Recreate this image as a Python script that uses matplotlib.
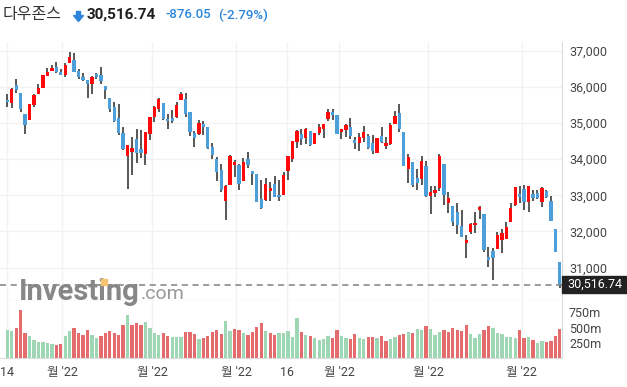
import matplotlib
matplotlib.use("Agg")
import numpy as np
import matplotlib.pyplot as plt
from matplotlib.patches import Polygon, Rectangle

# daily candles (Dow Jones)
opens = [35635, 35562, 36041, 35829, 35249, 35092, 35507, 35811, 35977, 36308,
         36447, 36539, 36410, 36336, 36668, 36742, 36428, 36281, 36180, 36087,
         36355, 36327, 36023, 35691, 35442, 35138, 34723, 34096, 34207, 34557,
         34281, 34151, 34704, 35165, 35387, 35562, 35119, 35138, 35174, 35645,
         35654, 35304, 34732, 34704, 34972, 34880, 34336, 34004, 33699, 32851,
         33294, 33838, 33828, 33386, 34004, 33662, 33589, 32897, 32879, 33128,
         33312, 33008, 33017, 33681, 34013, 34483, 34695, 34594, 34778, 34428,
         34732, 34834, 35110, 35304, 35221, 34760, 34815, 34880, 34529, 34456,
         34594, 34640, 34437, 34179, 34631, 34372, 34409, 34981, 35267, 34741,
         33736, 33911, 33478, 33441, 33810, 32989, 33072, 33192, 33865, 32796,
         32703, 32537, 32150, 31689, 31994, 32169, 32602, 32482, 31293, 31458,
         31524, 31754, 31800, 32270, 32731, 33045, 33174, 32824, 33036, 33063,
         32805, 33119, 32842, 32067, 31164]
closes = [35571, 35930, 35921, 35387, 34953, 35516, 35765, 35967, 36318, 36410,
          36520, 36410, 36336, 36613, 36816, 36410, 36262, 36189, 36087, 36262,
          36281, 36152, 35921, 35396, 35045, 34723, 34290, 34382, 34308, 34170,
          34170, 34750, 35165, 35442, 35663, 35110, 35045, 35064, 35497, 35811,
          35257, 34760, 34594, 34990, 34898, 34317, 34105, 33635, 33155, 33257,
          34087, 33920, 33321, 33920, 33828, 33598, 32824, 32648, 33312, 33201,
          32962, 32943, 33561, 34087, 34511, 34778, 34566, 34834, 34382, 34713,
          34880, 34972, 35304, 35230, 34704, 34834, 34935, 34649, 34456, 34603,
          34750, 34317, 34234, 34576, 34465, 34437, 34944, 35193, 34824, 33819,
          34059, 33275, 33331, 33939, 32980, 33091, 33146, 34087, 33008, 32925,
          32270, 32187, 31855, 31772, 32206, 32243, 32676, 31496, 31219, 31265,
          31892, 31957, 32132, 32648, 33229, 32962, 32824, 33257, 32925, 32925,
          33192, 32943, 32298, 31422, 30516.74]
highs = [35793, 35958, 36207, 35829, 35249, 35530, 35793, 36069, 36330, 36530,
         36594, 36696, 36484, 36650, 36963, 36945, 36493, 36392, 36180, 36299,
         36392, 36539, 36023, 35691, 35580, 35516, 34898, 34382, 34603, 34824,
         34806, 34750, 35165, 35460, 35682, 35562, 35239, 35359, 35580, 35848,
         35820, 35304, 34787, 35073, 35055, 34880, 34446, 34068, 33856, 33275,
         34105, 33976, 33856, 34031, 34188, 33662, 33589, 33423, 33469, 33358,
         33524, 33423, 33635, 34087, 34511, 34806, 34834, 34852, 34778, 34713,
         34963, 34972, 35378, 35387, 35221, 34834, 34972, 35128, 34621, 34713,
         34926, 34686, 34667, 34594, 34898, 34621, 35009, 35331, 35516, 34741,
         34133, 33911, 33718, 34077, 33939, 33257, 33257, 34133, 33865, 33082,
         32703, 32777, 32593, 31911, 32243, 32528, 32713, 32482, 31579, 31532,
         31984, 32077, 32261, 32777, 33229, 33266, 33285, 33257, 33137, 33155,
         33229, 33155, 32971, 32067, 31164]
lows = [35452, 35405, 35820, 35313, 34686, 35080, 35451, 35800, 35965, 36300,
        36437, 36373, 36330, 36262, 36650, 36400, 36225, 36152, 35682, 35792,
        36216, 36069, 35672, 35304, 35040, 34677, 34253, 33165, 33570, 33902,
        34040, 33829, 34529, 35027, 35304, 35082, 34824, 35009, 35138, 35645,
        35174, 34650, 34326, 34658, 34667, 34280, 33994, 33386, 33100, 32307,
        33275, 33497, 33137, 33386, 33764, 33275, 32824, 32611, 32851, 32833,
        32943, 32833, 33008, 33423, 33920, 34317, 34382, 34428, 34363, 34419,
        34658, 34585, 35064, 35082, 34704, 34566, 34603, 34548, 34290, 34216,
        34483, 34280, 34142, 34160, 34446, 34290, 34391, 34981, 34741, 33819,
        33349, 33238, 33146, 33275, 32943, 32482, 32953, 33128, 32731, 32519,
        32150, 31929, 31837, 31256, 31920, 31966, 32335, 31422, 31025, 30648,
        31505, 31395, 31782, 32252, 32713, 32777, 32602, 32528, 32833, 32888,
        32666, 32916, 32298, 31422, 30430]

# volume in millions, g = green bar, r = red bar
volumes = [458, 441, 490, 785, 409, 360, 294, 262, 262, 245,
           234, 213, 229, 360, 441, 490, 409, 376, 458, 376,
           327, 360, 409, 441, 409, 376, 540, 703, 540, 572,
           540, 589, 490, 409, 376, 409, 360, 343, 343, 343,
           425, 425, 392, 311, 327, 360, 425, 458, 392, 605,
           441, 474, 458, 409, 376, 425, 507, 572, 441, 409,
           376, 409, 409, 441, 343, 654, 425, 376, 360, 327,
           294, 311, 360, 327, 458, 360, 327, 311, 392, 327,
           311, 343, 343, 327, 360, 278, 311, 343, 376, 392,
           425, 409, 474, 458, 523, 474, 376, 425, 458, 425,
           490, 458, 441, 540, 392, 327, 392, 458, 523, 490,
           409, 392, 343, 343, 327, 458, 327, 343, 294, 245,
           278, 262, 278, 360, 474]
vol_dir = ("ggrrrggggg" "grrggrrrrg" "grrrrrrgrr" "rggggrrggg" "rrrgrrrrrg"
           "grrgrrrrgr" "rgggggrgrg" "gggrrggrrg" "grrgrrggrr" "grggrgggrr"
           "rrrrgggrrg" "gggggrrgrg" "grrrr")

tick_idx = [0, 12.35, 32.55, 51.4, 62.85, 74.5, 94.5, 115.5]
tick_lbl = ["14", "월 '22", "월 '22", "월 '22", "16", "월 '22", "월 '22", "월 '22"]
last_price = 30516.74

plt.rcParams['font.family'] = ['Roboto', 'Noto Sans CJK KR', 'DejaVu Sans']

W, H = 627, 387
fig = plt.figure(figsize=(W / 100, H / 100), dpi=100)


def box(x0, y0, x1, y1):
    return [x0 / W, 1 - y1 / H, (x1 - x0) / W, (y1 - y0) / H]


ax = fig.add_axes(box(0, 42, 562, 301))
axv = fig.add_axes(box(0, 301, 562, 358))

o = np.array(opens, float)
c = np.array(closes, float)
hi = np.array(highs, float)
lo = np.array(lows, float)
x = np.arange(len(c))
cols = np.where(c >= o, '#ff0a0a', '#4d9fd9')

ax.vlines(x, lo, hi, color='#2a2a2a', lw=1.1, zorder=2)
ax.bar(x, np.maximum(np.abs(c - o), 30), bottom=np.minimum(o, c), width=0.74,
       color=cols, zorder=3)
ax.axhline(last_price, color='#808080', lw=1.1, ls=(0, (4, 3)), zorder=4)

ax.set_xlim(-1.64, 124.5)
ax.set_ylim(30078, 37240)
ax.set_yticks(range(31000, 38000, 1000))
ax.set_yticklabels(["{:,}".format(v) for v in range(31000, 38000, 1000)])
ax.set_xticks(tick_idx)
ax.yaxis.tick_right()
ax.tick_params(axis='y', length=0, pad=5, labelsize=9, labelcolor='#444444')
ax.tick_params(axis='x', length=0, labelbottom=False)
ax.grid(True, color='#f2f2f2', lw=1)
ax.set_axisbelow(True)
for s in ['left', 'top']:
    ax.spines[s].set_visible(False)
ax.spines['right'].set_color('#d8dbe3')
ax.spines['bottom'].set_color('#c8c8c8')

vcols = ['#9fd6b3' if d == 'g' else '#e46c6c' for d in vol_dir]
axv.bar(x, volumes, width=0.74, color=vcols, zorder=3)
axv.set_xlim(-1.64, 124.5)
axv.set_ylim(0, 936)
axv.set_yticks([250, 500, 750])
axv.set_yticklabels(['250m', '500m', '750m'])
axv.set_xticks(tick_idx)
axv.set_xticklabels(tick_lbl)
axv.yaxis.tick_right()
axv.tick_params(axis='y', length=0, pad=5, labelsize=9, labelcolor='#444444')
axv.tick_params(axis='x', length=0, pad=6, labelsize=9, labelcolor='#444444')
axv.grid(True, axis='x', color='#f2f2f2', lw=1)
axv.set_axisbelow(True)
axv.spines['left'].set_visible(False)
axv.spines['top'].set_visible(False)
axv.spines['right'].set_color('#d8dbe3')
axv.spines['bottom'].set_color('#dddddd')

# last price tag
fig.add_artist(Rectangle((562 / W, 1 - 293 / H), 65 / W, 17 / H,
                         transform=fig.transFigure, color='#222222', zorder=5))
fig.text(594.5 / W, 1 - 284.5 / H, "30,516.74", color='white', size=9,
         ha='center', va='center', zorder=6)

# watermark
fig.text(19 / W, 1 - 292 / H, "Investing", size=21, weight='bold',
         color='#878787', va='center', zorder=4)
fig.text(141 / W, 1 - 294 / H, ".com", size=14, color='#999999',
         va='center', zorder=4)
fig.add_artist(Rectangle((101 / W, 1 - 285 / H), 6 / W, 6 / H,
                         transform=fig.transFigure, color='#f8c471', zorder=5))

# header
fig.text(3 / W, 1 - 15 / H, "다우존스", size=11.5, color='#333333', va='center',
         family=['Noto Sans CJK KR', 'DejaVu Sans'])
arrow = [(76.5, 11.5), (80.5, 11.5), (80.5, 15.5), (83.5, 15.5), (78.5, 21.5),
         (73.5, 15.5), (76.5, 15.5)]
fig.add_artist(Polygon([(px / W, 1 - py / H) for px, py in arrow],
                       transform=fig.transFigure, color='#2b86db'))
fig.text(87 / W, 1 - 15 / H, "30,516.74", size=11, weight='bold',
         color='#1f1f1f', va='center')
fig.text(166 / W, 1 - 15 / H, "-876.05", size=9.5, weight='medium',
         color='#2b86db', va='center')
fig.text(218 / W, 1 - 15 / H, "(-2.79%)", size=9.5, weight='medium',
         color='#2b86db', va='center')

fig.savefig("out.png", dpi=100)
